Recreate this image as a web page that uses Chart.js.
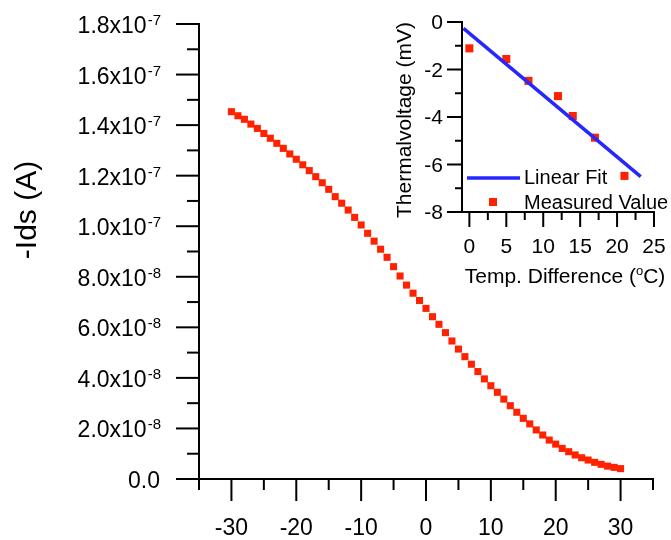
<!DOCTYPE html>
<html>
<head>
<meta charset="utf-8">
<script src="https://cdn.jsdelivr.net/npm/chart.js@4/dist/chart.umd.min.js"></script>
<style>
html, body { margin: 0; padding: 0; background: #fff; }
#wrap { position: relative; width: 671px; height: 540px; background: #fff; }
#main { position: absolute; left: 0; top: 0; }
#inset { position: absolute; left: 380px; top: 0; }
</style>
</head>
<body>
<div id="wrap">
  <canvas id="main" width="671" height="540"></canvas>
  <canvas id="inset" width="291" height="290"></canvas>
</div>
<script>
// main curve: gate voltage vs -Ids
var vg = [-30, -29, -28, -27, -26, -25, -24, -23, -22, -21, -20, -19, -18, -17, -16, -15,
          -14, -13, -12, -11, -10, -9, -8, -7, -6, -5, -4, -3, -2, -1, 0,
          1, 2, 3, 4, 5, 6, 7, 8, 9, 10, 11, 12, 13, 14, 15,
          16, 17, 18, 19, 20, 21, 22, 23, 24, 25, 26, 27, 28, 29, 30]
var ids = [14.53e-8, 14.37e-8, 14.23e-8, 14.04e-8, 13.87e-8, 13.67e-8, 13.48e-8, 13.28e-8,
           13.08e-8, 12.86e-8, 12.65e-8, 12.43e-8, 12.20e-8, 11.96e-8, 11.72e-8, 11.46e-8,
           11.17e-8, 10.91e-8, 10.64e-8, 10.35e-8, 10.05e-8, 9.72e-8, 9.41e-8, 9.09e-8,
           8.77e-8, 8.40e-8, 8.03e-8, 7.67e-8, 7.35e-8, 7.06e-8, 6.75e-8,
           6.42e-8, 6.12e-8, 5.79e-8, 5.46e-8, 5.14e-8, 4.84e-8, 4.54e-8, 4.25e-8,
           3.96e-8, 3.69e-8, 3.43e-8, 3.16e-8, 2.90e-8, 2.64e-8, 2.40e-8,
           2.18e-8, 1.94e-8, 1.74e-8, 1.54e-8, 1.38e-8, 1.21e-8, 1.08e-8, 0.95e-8,
           0.84e-8, 0.75e-8, 0.66e-8, 0.58e-8, 0.51e-8, 0.46e-8, 0.41e-8]

var xMajor = [-30, -20, -10, 0, 10, 20, 30]
var xMinor = [-35, -25, -15, -5, 5, 15, 25, 35]
var yMajor = [0, 2e-8, 4e-8, 6e-8, 8e-8, 1.0e-7, 1.2e-7, 1.4e-7, 1.6e-7, 1.8e-7]
var yMinor = [1e-8, 3e-8, 5e-8, 7e-8, 9e-8, 1.1e-7, 1.3e-7, 1.5e-7, 1.7e-7]
var yMant = ['0.0', '2.0', '4.0', '6.0', '8.0', '1.0', '1.2', '1.4', '1.6', '1.8']
var yExp = ['', '-8', '-8', '-8', '-8', '-7', '-7', '-7', '-7', '-7']

// inset: thermal voltage
var tempDiff = [0, 5, 8, 12, 14, 17, 21]
var thermalV = [-1.11, -1.56, -2.48, -3.12, -3.96, -4.87, -6.48]
var fitX = [-0.8, 23.2]
var fitY = [-0.27, -6.51]
var inXMajor = [0, 5, 10, 15, 20, 25]
var inXMinor = [2.5, 7.5, 12.5, 17.5, 22.5]
var inYMajor = [0, -2, -4, -6, -8]
var inYMinor = [-1, -3, -5, -7]

var RED = '#ff2200'
var BLUE = '#2626ff'
var FONT = '"Liberation Sans", Arial, sans-serif'

function seg(ctx, x1, y1, x2, y2) {
    ctx.beginPath()
    ctx.moveTo(x1, y1)
    ctx.lineTo(x2, y2)
    ctx.stroke()
}

var mainAxes = {
    id: 'mainAxes',
    afterDraw: function(chart) {
        var ctx = chart.ctx, xs = chart.scales.x, ys = chart.scales.y
        var a = chart.chartArea
        ctx.save()
        ctx.strokeStyle = '#000'
        ctx.fillStyle = '#000'
        ctx.lineWidth = 2
        xMajor.forEach(function(v) { var p = xs.getPixelForValue(v); seg(ctx, p, a.bottom, p, a.bottom + 22) })
        xMinor.forEach(function(v) { var p = xs.getPixelForValue(v); seg(ctx, p, a.bottom, p, a.bottom + 11) })
        yMajor.forEach(function(v) { var p = ys.getPixelForValue(v); seg(ctx, a.left - 23, p, a.left, p) })
        yMinor.forEach(function(v) { var p = ys.getPixelForValue(v); seg(ctx, a.left - 12, p, a.left, p) })

        ctx.font = '23px ' + FONT
        ctx.textAlign = 'center'
        ctx.textBaseline = 'alphabetic'
        xMajor.forEach(function(v) { ctx.fillText(String(v), xs.getPixelForValue(v), 535) })

        yMajor.forEach(function(v, i) {
            var p = ys.getPixelForValue(v)
            var right = 161
            ctx.textAlign = 'right'
            if (yExp[i]) {
                ctx.font = '15px ' + FONT
                var w = ctx.measureText(yExp[i]).width
                ctx.textAlign = 'left'
                ctx.fillText(yExp[i], right - w, p + 1)
                ctx.textAlign = 'right'
                ctx.font = '23px ' + FONT
                ctx.fillText(yMant[i] + 'x10', right - w - 1, p + 9)
            } else {
                ctx.font = '23px ' + FONT
                ctx.fillText(yMant[i], right - 1, p + 9)
            }
        })

        ctx.translate(36, 210)
        ctx.rotate(-Math.PI / 2)
        ctx.textAlign = 'center'
        ctx.font = '30px ' + FONT
        ctx.fillText('-Ids (A)', 0, 0)
        ctx.restore()
    }
}

var insetAxes = {
    id: 'insetAxes',
    afterDraw: function(chart) {
        var ctx = chart.ctx, xs = chart.scales.x, ys = chart.scales.y
        var a = chart.chartArea
        ctx.save()
        ctx.strokeStyle = '#000'
        ctx.fillStyle = '#000'
        ctx.lineWidth = 2
        inXMajor.forEach(function(v) { var p = xs.getPixelForValue(v); seg(ctx, p, a.bottom, p, a.bottom + 15) })
        inXMinor.forEach(function(v) { var p = xs.getPixelForValue(v); seg(ctx, p, a.bottom, p, a.bottom + 8) })
        inYMajor.forEach(function(v) { var p = ys.getPixelForValue(v); seg(ctx, a.left - 15, p, a.left, p) })
        inYMinor.forEach(function(v) { var p = ys.getPixelForValue(v); seg(ctx, a.left - 7, p, a.left, p) })

        ctx.font = '21px ' + FONT
        ctx.textAlign = 'center'
        inXMajor.forEach(function(v) { ctx.fillText(String(v), xs.getPixelForValue(v), 253) })
        ctx.textAlign = 'right'
        inYMajor.forEach(function(v) { ctx.fillText(String(v), 63, ys.getPixelForValue(v) + 7) })

        // x title with superscript degree
        ctx.font = '21px ' + FONT
        var t1 = 'Temp. Difference (', t3 = 'C)'
        var w1 = ctx.measureText(t1).width, w3 = ctx.measureText(t3).width
        ctx.font = '13px ' + FONT
        var w2 = ctx.measureText('o').width
        var x0 = 185 - (w1 + w2 + w3) / 2
        ctx.textAlign = 'left'
        ctx.font = '21px ' + FONT
        ctx.fillText(t1, x0, 283)
        ctx.font = '13px ' + FONT
        ctx.fillText('o', x0 + w1, 275)
        ctx.font = '21px ' + FONT
        ctx.fillText(t3, x0 + w1 + w2, 283)

        // legend
        ctx.strokeStyle = BLUE
        ctx.lineWidth = 3.5
        seg(ctx, 87, 178, 140, 178)
        ctx.fillStyle = RED
        ctx.fillRect(109, 198, 8, 8)
        ctx.fillStyle = '#000'
        ctx.font = '20px ' + FONT
        ctx.fillText('Linear Fit', 144, 184)
        ctx.fillText('Measured Value', 144, 209)

        ctx.translate(31, 120)
        ctx.rotate(-Math.PI / 2)
        ctx.textAlign = 'center'
        ctx.font = '21px ' + FONT
        ctx.fillText('Thermalvoltage (mV)', 0, 0)
        ctx.restore()
    }
}

function bareAxis(horizontal) {
    return {
        grid: { display: false },
        border: { display: true, color: '#000', width: 2 },
        ticks: { display: false },
        afterFit: function(s) {
            if (horizontal) s.height = 0
            else s.width = 0
        }
    }
}

new Chart(document.getElementById('main').getContext('2d'), {
    type: 'scatter',
    data: {
        datasets: [{
            data: vg.map(function(v, i) { return { x: v, y: ids[i] } }),
            pointStyle: 'rect',
            pointRadius: 5,
            backgroundColor: RED,
            borderWidth: 0
        }]
    },
    options: {
        responsive: false,
        animation: false,
        devicePixelRatio: 1,
        layout: { padding: { left: 199, top: 24, right: 18, bottom: 61 } },
        plugins: { legend: { display: false }, tooltip: { enabled: false } },
        scales: {
            x: Object.assign({ type: 'linear', min: -35, max: 35 }, bareAxis(true)),
            y: Object.assign({ type: 'linear', min: 0, max: 1.8e-7 }, bareAxis(false))
        }
    },
    plugins: [mainAxes]
});

new Chart(document.getElementById('inset').getContext('2d'), {
    type: 'scatter',
    data: {
        datasets: [{
            data: fitX.map(function(v, i) { return { x: v, y: fitY[i] } }),
            showLine: true,
            borderColor: BLUE,
            borderWidth: 3.5,
            pointRadius: 0
        }, {
            data: tempDiff.map(function(v, i) { return { x: v, y: thermalV[i] } }),
            pointStyle: 'rect',
            pointRadius: 5.7,
            backgroundColor: RED,
            borderWidth: 0
        }]
    },
    options: {
        responsive: false,
        animation: false,
        devicePixelRatio: 1,
        layout: { padding: { left: 82, top: 22, right: 17, bottom: 78 } },
        plugins: { legend: { display: false }, tooltip: { enabled: false } },
        scales: {
            x: Object.assign({ type: 'linear', min: -1, max: 25 }, bareAxis(true)),
            y: Object.assign({ type: 'linear', min: -8, max: 0 }, bareAxis(false))
        }
    },
    plugins: [insetAxes]
});
</script>
</body>
</html>
